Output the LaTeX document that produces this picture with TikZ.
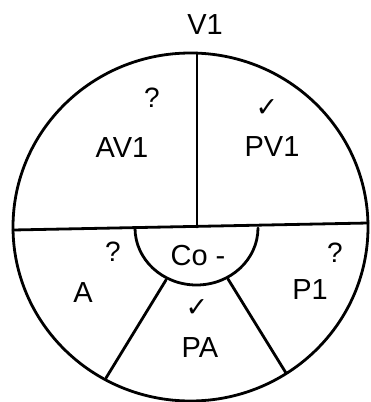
\documentclass[tikz,border=0pt]{standalone}
\usepackage{fontspec}
\setmainfont{Liberation Sans}
\newfontfamily\symfont{DejaVu Sans}
\tikzset{
  ln/.style={line width=2.8pt, line cap=round, line join=round},
  lbl/.style={inner sep=0pt, font=\fontsize{29}{33}\selectfont},
  qm/.style={inner sep=0pt, font=\fontsize{28}{32}\selectfont},
  tick/.style={inner sep=0pt, font=\symfont\fontsize{27}{31}\selectfont}
}
\begin{document}
\begin{tikzpicture}[x=1pt,y=-1pt]
\useasboundingbox (0,0) rectangle (370,402);
% outer circle
\coordinate (C) at (190.5,227);
\draw[ln] (C) ellipse [x radius=177.5, y radius=174];
% horizontal diameter
\coordinate (hl) at (13,230);
\coordinate (hr) at (368,223);
\draw[ln] (hl) -- (hr);
% vertical radius
\coordinate (vt) at (197,53);
\coordinate (vb) at (197,227);
\draw[ln] (vt) -- (vb);
% inner semicircle
\coordinate (il) at (135,228);
\draw[ln] (il) arc[start angle=180, end angle=0, x radius=61.5, y radius=57];
% spokes
\coordinate (s1a) at (166,280);
\coordinate (s1b) at (106,378);
\coordinate (s2a) at (228,279);
\coordinate (s2b) at (286,373);
\draw[ln] (s1a) -- (s1b);
\draw[ln] (s2a) -- (s2b);
% labels
\node[lbl] (v1) at (205,25) {V1};
\node[qm] (q1) at (152,98) {?};
\node[lbl] (av1) at (122,148) {AV1};
\node[tick] (t1) at (267,108) {✓};
\node[lbl] (pv1) at (272,147) {PV1};
\node[qm] (q2) at (113,252) {?};
\node[lbl] (a) at (83,293) {A};
\node[lbl] (co) at (198,256) {Co -};
\node[qm] (q3) at (335,253) {?};
\node[lbl] (p1) at (310,290) {P1};
\node[tick] (t2) at (197,308) {✓};
\node[lbl] (pa) at (200,348) {PA};
\end{tikzpicture}
\end{document}
